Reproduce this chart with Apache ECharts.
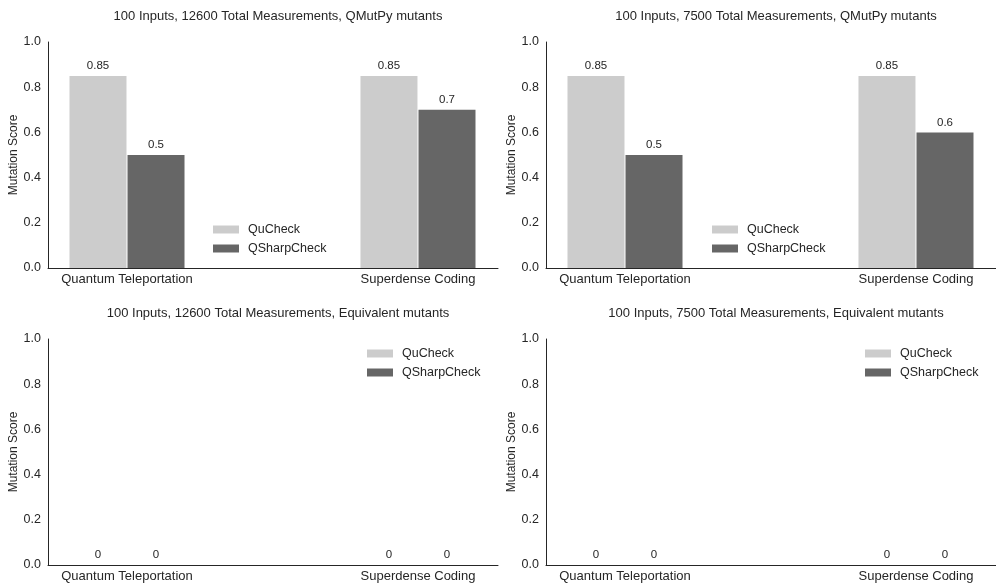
<!DOCTYPE html>
<html>
<head>
<meta charset="utf-8">
<script src="https://cdn.jsdelivr.net/npm/echarts@6/dist/echarts.min.js"></script>
<style>
  html, body { margin: 0; padding: 0; background: #fff; }
  #chart { width: 996px; height: 584px; }
</style>
</head>
<body>
<div id="chart"></div>
<script>
// Benchmark programs on the x axis
const categories = ['Quantum Teleportation', 'Superdense Coding'];
const seriesNames = ['QuCheck', 'QSharpCheck'];

// Panel titles
const titles = [
  '100 Inputs, 12600 Total Measurements, QMutPy mutants',
  '100 Inputs, 7500 Total Measurements, QMutPy mutants',
  '100 Inputs, 12600 Total Measurements, Equivalent mutants',
  '100 Inputs, 7500 Total Measurements, Equivalent mutants'
];

// Mutation scores per panel
const quCheckQMutPy12600 = [0.85, 0.85];
const qsharpCheckQMutPy12600 = [0.5, 0.7];
const quCheckQMutPy7500 = [0.85, 0.85];
const qsharpCheckQMutPy7500 = [0.5, 0.6];
const quCheckEquiv12600 = [0, 0];
const qsharpCheckEquiv12600 = [0, 0];
const quCheckEquiv7500 = [0, 0];
const qsharpCheckEquiv7500 = [0, 0];

const panelValues = [
  [quCheckQMutPy12600, qsharpCheckQMutPy12600],
  [quCheckQMutPy7500, qsharpCheckQMutPy7500],
  [quCheckEquiv12600, qsharpCheckEquiv12600],
  [quCheckEquiv7500, qsharpCheckEquiv7500]
];

const colors = ['#cccccc', '#666666'];
const FONT = 'Liberation Sans, Arial, sans-serif';
const TXT = '#262626';
const AXIS = '#262626';

// Panel geometry
const gridBoxes = [
  { left: 48, top: 42, width: 450, height: 226 },
  { left: 546, top: 42, width: 450, height: 226 },
  { left: 48, top: 339, width: 450, height: 226 },
  { left: 546, top: 339, width: 450, height: 226 }
];
const legendPos = [
  { left: 208, top: 218 },
  { left: 707, top: 218 },
  { left: 362, top: 342 },
  { left: 860, top: 342 }
];

const option = {
  animation: false,
  backgroundColor: '#fff',
  textStyle: { fontFamily: FONT },
  title: [], grid: [], xAxis: [], yAxis: [], legend: [], series: []
};

gridBoxes.forEach((g, i) => {
  option.grid.push(Object.assign({ containLabel: false }, g));
  option.title.push({
    text: titles[i],
    left: g.left + g.width / 2,
    textAlign: 'center',
    top: g.top - 37,
    textStyle: { fontSize: 13, fontWeight: 'normal', color: TXT, fontFamily: FONT }
  });
  option.xAxis.push({
    type: 'value',
    gridIndex: i,
    min: -0.2715,
    max: 1.275,
    splitLine: { show: false },
    axisTick: { show: false },
    axisLine: { show: true, onZero: false, lineStyle: { color: AXIS, width: 1 } },
    axisLabel: {
      customValues: [0, 1],
      formatter: v => categories[Math.round(v)],
      fontSize: 13,
      color: TXT,
      margin: 5,
      fontFamily: FONT
    }
  });
  option.yAxis.push({
    type: 'value',
    gridIndex: i,
    min: 0,
    max: 1,
    interval: 0.2,
    name: 'Mutation Score',
    nameLocation: 'middle',
    nameGap: 28,
    nameTextStyle: { fontSize: 12, color: TXT, fontFamily: FONT },
    splitLine: { show: false },
    axisTick: { show: false },
    axisLine: { show: true, onZero: false, lineStyle: { color: AXIS, width: 1 } },
    axisLabel: {
      formatter: v => v.toFixed(1),
      fontSize: 12.5,
      color: TXT,
      margin: 7,
      fontFamily: FONT
    }
  });
  option.legend.push({
    data: seriesNames,
    orient: 'vertical',
    left: legendPos[i].left,
    top: legendPos[i].top,
    icon: 'rect',
    itemWidth: 26,
    itemHeight: 8,
    itemGap: 6,
    selectedMode: false,
    textStyle: { fontSize: 12.5, color: TXT, fontFamily: FONT, padding: [0, 0, 0, 4] }
  });
  seriesNames.forEach((name, s) => {
    option.series.push({
      type: 'bar',
      name: name,
      xAxisIndex: i,
      yAxisIndex: i,
      barWidth: 57,
      barGap: '1.8%',
      itemStyle: { color: colors[s] },
      label: {
        show: true,
        position: 'top',
        distance: 4,
        fontSize: 11.5,
        color: TXT,
        fontFamily: FONT,
        formatter: p => String(p.value[1])
      },
      data: panelValues[i][s].map((v, k) => [k, v])
    });
  });
});

const chart = echarts.init(document.getElementById('chart'), null, { renderer: 'canvas' });
chart.setOption(option);
</script>
</body>
</html>
